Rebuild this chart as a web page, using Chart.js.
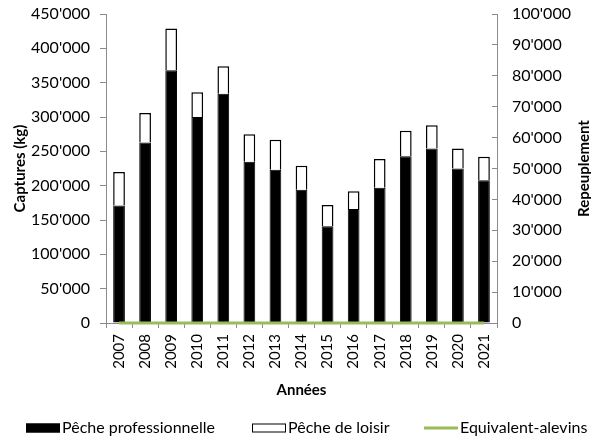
<!DOCTYPE html>
<html>
<head>
<meta charset="utf-8">
<script src="https://cdn.jsdelivr.net/npm/chart.js@4.4.1/dist/chart.umd.min.js"></script>
<style>
  html, body { margin: 0; padding: 0; background: #fff; }
  #wrap { width: 591px; height: 439px; }
</style>
</head>
<body>
<div id="wrap"><canvas id="chart" width="591" height="439"></canvas></div>
<script>
// Captures (kg) par année, pêche pro / loisir + repeuplement
const years = ['2007', '2008', '2009', '2010', '2011', '2012', '2013', '2014',
  '2015', '2016', '2017', '2018', '2019', '2020', '2021'];
const pechePro = [171000, 263000, 368000, 300000, 334000, 235000, 223000, 194000,
  141000, 166000, 197000, 243000, 254000, 225000, 208000];
const pecheLoisir = [49000, 43000, 61000, 36000, 40000, 40000, 44000, 35000,
  31000, 26000, 42000, 37000, 34000, 29000, 34000];
const equivalentAlevins = [0, 0, 0, 0, 0, 0, 0, 0, 0, 0, 0, 0, 0, 0, 0];

const capturesMax = 450000, capturesStep = 50000;
const repeuplementMax = 100000, repeuplementStep = 10000;

const FONT = 'Lato';
const AXIS_GREY = '#8c8c8c';

// 450000 -> 450'000
function fmt(v) {
  return String(v).replace(/\B(?=(\d{3})+(?!\d))/g, "'");
}

// titles + legend drawn by hand (Excel style, both vertical titles read upwards)
const extraText = {
  id: 'extraText',
  afterDraw(chart) {
    const ctx = chart.ctx;
    const area = chart.chartArea;
    const midY = (area.top + area.bottom) / 2;
    ctx.save();
    ctx.fillStyle = '#000';
    ctx.font = 'bold 15px ' + FONT;
    ctx.textAlign = 'center';
    ctx.textBaseline = 'middle';
    [[20, 'Captures (kg)'], [584, 'Repeuplement']].forEach(([x, txt]) => {
      ctx.save();
      ctx.translate(x, midY);
      ctx.rotate(-Math.PI / 2);
      ctx.fillText(txt, 0, 0);
      ctx.restore();
    });
    ctx.fillText('Années', (area.left + area.right) / 2, 390);

    // legend
    const legendX = [26, 252, 424];
    const legendY = 428;
    ctx.font = '16px ' + FONT;
    ctx.textAlign = 'left';
    chart.data.datasets.forEach((ds, i) => {
      const x = legendX[i];
      if (ds.type === 'line') {
        ctx.fillStyle = ds.borderColor;
        ctx.fillRect(x, legendY - 1.5, 34, 3);
      } else {
        ctx.fillStyle = ds.backgroundColor;
        ctx.fillRect(x, legendY - 4.5, 34, 9);
        ctx.strokeStyle = ds.borderColor;
        ctx.lineWidth = 1;
        ctx.strokeRect(x + 0.5, legendY - 4, 33, 8);
      }
      ctx.fillStyle = '#000';
      ctx.fillText(ds.label, x + 36, legendY);
    });
    ctx.restore();
  }
};

new Chart(document.getElementById('chart'), {
  type: 'bar',
  data: {
    labels: years,
    datasets: [
      {
        label: 'Pêche professionnelle',
        data: pechePro,
        backgroundColor: '#000000',
        borderColor: '#000000',
        borderWidth: 1,
        yAxisID: 'y',
        order: 1,
        barPercentage: 0.45,
        categoryPercentage: 1
      },
      {
        label: 'Pêche de loisir',
        data: pecheLoisir,
        backgroundColor: '#ffffff',
        borderColor: '#000000',
        borderWidth: 1.5,
        yAxisID: 'y',
        order: 2,
        barPercentage: 0.45,
        categoryPercentage: 1
      },
      {
        type: 'line',
        label: 'Equivalent-alevins',
        data: equivalentAlevins,
        borderColor: '#9bbb59',
        backgroundColor: '#9bbb59',
        borderWidth: 3,
        pointRadius: 0,
        yAxisID: 'y1',
        order: 0,
        clip: false
      }
    ]
  },
  options: {
    responsive: false,
    devicePixelRatio: 1,
    animation: false,
    layout: { padding: 0 },
    plugins: {
      legend: { display: false },
      tooltip: { enabled: false }
    },
    scales: {
      x: {
        stacked: true,
        offset: true,
        grid: {
          offset: true,
          drawOnChartArea: false,
          drawTicks: true,
          tickLength: 5,
          color: AXIS_GREY
        },
        border: { color: AXIS_GREY, width: 1 },
        ticks: {
          minRotation: 90,
          maxRotation: 90,
          padding: 6,
          color: '#000',
          font: { family: FONT, size: 15 }
        },
        afterFit(scale) { scale.height = 116; }
      },
      y: {
        stacked: true,
        position: 'left',
        min: 0,
        max: capturesMax,
        grid: {
          drawOnChartArea: false,
          drawTicks: true,
          tickLength: 6,
          color: AXIS_GREY
        },
        border: { color: AXIS_GREY, width: 1 },
        ticks: {
          stepSize: capturesStep,
          padding: 10,
          color: '#000',
          font: { family: FONT, size: 16 },
          callback: v => fmt(v)
        },
        afterFit(scale) { scale.width = 106; scale.paddingTop = 14; }
      },
      y1: {
        position: 'right',
        min: 0,
        max: repeuplementMax,
        grid: {
          drawOnChartArea: false,
          drawTicks: true,
          tickLength: -5,
          color: AXIS_GREY
        },
        border: { color: AXIS_GREY, width: 1 },
        ticks: {
          stepSize: repeuplementStep,
          padding: 20,
          color: '#000',
          font: { family: FONT, size: 16 },
          callback: v => fmt(v)
        },
        afterFit(scale) { scale.width = 94; scale.paddingTop = 14; }
      }
    }
  },
  plugins: [extraText]
});
</script>
</body>
</html>
